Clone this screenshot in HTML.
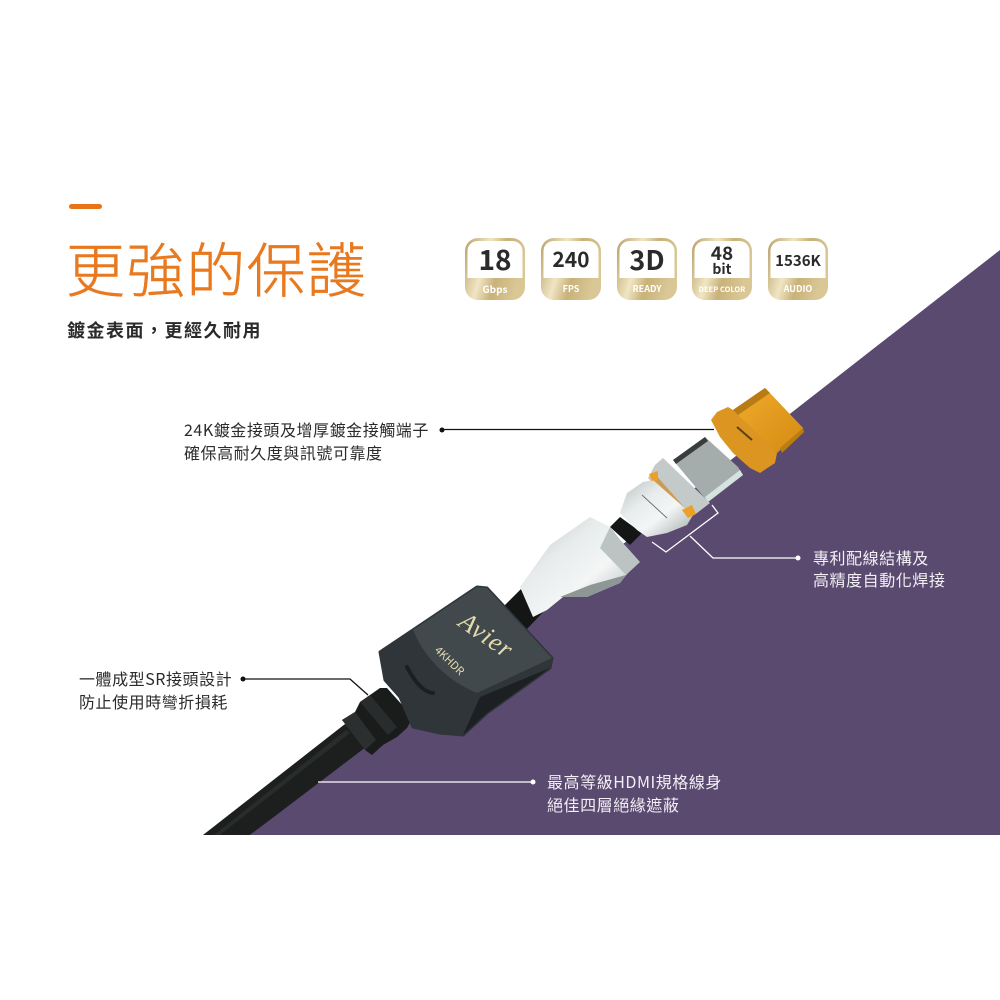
<!DOCTYPE html>
<html><head><meta charset="utf-8"><style>
html,body{margin:0;padding:0;background:#fff}
svg{display:block}
text{font-family:"Noto Sans CJK TC","Liberation Sans",sans-serif}
.l{font-size:16px;letter-spacing:.55px;fill:#2b2b2b}
.w{font-size:16px;letter-spacing:.55px;fill:#f2eff5}
.n{font-weight:bold;fill:#2b2b2b;text-anchor:middle}
.g{font-size:9px;fill:#fff;text-anchor:middle;font-weight:bold}
</style></head><body>
<svg width="1000" height="1000" viewBox="0 0 1000 1000" xmlns="http://www.w3.org/2000/svg">
<defs>
<linearGradient id="gold" x1="0" x2="1" y1="0" y2="0.3"><stop offset="0" stop-color="#b9a067"/><stop offset=".4" stop-color="#f0e6c4"/><stop offset=".65" stop-color="#c9b27a"/><stop offset="1" stop-color="#d9c795"/></linearGradient>
<linearGradient id="silver" x1="0" x2="1" y1="0" y2="1"><stop offset="0" stop-color="#b9c0c0"/><stop offset=".35" stop-color="#e8ecec"/><stop offset=".6" stop-color="#f4f6f6"/><stop offset="1" stop-color="#9fa7a7"/></linearGradient>
<linearGradient id="au" x1="0" x2="1" y1="0" y2="1"><stop offset="0" stop-color="#f0ac2c"/><stop offset="1" stop-color="#d58a12"/></linearGradient>
<g id="b"><rect x="0" y="0" width="60" height="62" rx="13" fill="url(#gold)"/><path d="M2.500 40V13a10 10 0 0 1 10-10H47.500a10 10 0 0 1 10 10V40Z" fill="#fff"/></g>
</defs>

<rect x="69" y="204" width="33" height="5" rx="2.5" fill="#e8741a"/>
<text x="66" y="292" font-size="59" font-weight="300" letter-spacing="1.200" fill="#e8791f" stroke="#e8791f" stroke-width=".5">更強的保護</text>
<text x="67" y="337" font-size="18" font-weight="bold" letter-spacing="1.500" fill="#2b2b2b">鍍金表面&#xFF0C;更經久耐用</text>

<use href="#b" x="465" y="238"/><use href="#b" x="541" y="238"/><use href="#b" x="617" y="238"/><use href="#b" x="692" y="238"/><use href="#b" x="768" y="238"/>
<text x="495" y="270" class="n" font-size="28">18</text>
<text x="571" y="267" class="n" font-size="21">240</text>
<text x="647" y="270" class="n" font-size="27">3D</text>
<text x="722" y="260" class="n" font-size="19">48</text>
<text x="722" y="274" class="n" font-size="14">bit</text>
<text x="798" y="266" class="n" font-size="15">1536K</text>
<text x="495" y="293" class="g" style="font-size:10px">Gbps</text>
<text x="571" y="292" class="g">FPS</text>
<text x="647" y="292" class="g">READY</text>
<text x="722" y="292" class="g" style="font-size:7.500px">DEEP COLOR</text>
<text x="798" y="292" class="g">AUDIO</text>

<polygon points="1000,250 1000,835 250,835" fill="#5b4a70"/>

<!-- cable -->
<polygon points="203,835 250,835 366,747 345,724" fill="#1d1f1f"/>
<polygon points="214,835 220,835 350,733 346,730" fill="#292c2c"/>
<polygon points="500,610 522,588 548,607 526,630" fill="#141515"/>
<polygon points="610,527 620,517 642,533 630,545" fill="#141515"/>

<!-- strain relief -->
<polygon points="342,720 355,712 360,702 370,695 380,688 387,688 413,717 407,728 397,737 383,745 372,755 365,750 357,737" fill="#1a1c1c"/>
<polygon points="342,720 355,712 376,740 365,750" fill="#2b2f2f"/>
<polygon points="360,702 370,695 397,727 388,735" fill="#292c2c"/>

<!-- boot -->
<path d="M380 652L477 587L487 588L552 658L550 668L487 713L463 735L440 733L413 727L400 697L385 680Z" fill="#2f3538" stroke="#2f3538" stroke-width="3" stroke-linejoin="round"/>
<path d="M413 630L477 587L487 588L552 658L477 693C450 682 425 660 413 630Z" fill="#41494d"/>
<path d="M480 697L550 668L487 713L463 735Z" fill="#1c2022"/>
<path d="M407 667Q420 692 433 693" fill="none" stroke="#1b1f20" stroke-width="4" stroke-linecap="round"/>
<text transform="translate(457,625) rotate(35)" font-size="26" font-style="italic" style="font-family:'Liberation Serif',serif" letter-spacing="1" fill="#e4dcae">Avier</text>
<text transform="translate(434,651) rotate(44)" font-size="11" fill="#e4dcae">4KHDR</text>

<!-- silver 1 -->
<polygon points="520,587 550,545 590,517 610,527 620,540 638,560 620,583 587,597 563,597 547,610 533,617" fill="url(#silver)"/>
<polygon points="610,527 622,542 640,562 626,575 600,548" fill="#bcc3c3"/>
<polygon points="560,597 587,597 620,583 626,575 590,585" fill="#8e9696"/>

<!-- metal shell -->
<polygon points="673,460 705,437 738,467 743,475 708,502" fill="#a5adac"/>
<polygon points="673,460 705,437 708,441 676,464" fill="#3a3d3d"/>
<polygon points="708,502 743,475 740,470 705,497" fill="#d4e3e0"/>
<!-- teeth -->
<polygon points="655,465 663,458 710,503 697,513 683,522 648,478" fill="#c4c9c9"/>
<polygon points="650,476 654,473 692,516 686,519" fill="#d2892a" opacity=".75"/>
<!-- silver 2 -->
<polygon points="620,513 627,493 643,482 653,480 687,510 693,515 687,525 667,533 647,537 637,530" fill="url(#silver)"/>
<path d="M642 495L667 518" stroke="#707676" stroke-width="1"/>
<polygon points="649,474 658,471 658,480 652,481" fill="#eca126"/>
<polygon points="682,510 692,505 696,514 688,518" fill="#eca126"/>

<!-- gold -->
<polygon points="711,420 717,412 728,407 733,410 765,388 803,428 777,453 775,463 760,473 750,468 733,453 720,437" fill="#dc9520"/>
<polygon points="733,410 765,388 803,428 777,453" fill="url(#au)"/>
<polygon points="733,410 765,388 770,393 738,415" fill="#b97c14"/>
<polygon points="780,448 803,428 804,432 782,453" fill="#bb7d12"/>
<path d="M737 427L752 440" stroke="#5e4113" stroke-width="2"/>

<!-- leaders -->
<circle cx="442" cy="430" r="2.500" fill="#111"/><line x1="442" y1="429.500" x2="714" y2="429.500" stroke="#111" stroke-width="1.300"/>
<circle cx="243" cy="679" r="2.500" fill="#111"/><polyline points="243,679 350,679 368,695" fill="none" stroke="#111" stroke-width="1.300"/>
<polyline points="652,542 666,552 718,513 712,505" fill="none" stroke="#fff" stroke-width="1.300"/>
<polyline points="690,536 713,558 798,558" fill="none" stroke="#fff" stroke-width="1.300"/><circle cx="798" cy="558" r="2.500" fill="#fff"/>
<line x1="318" y1="782" x2="533" y2="782" stroke="#fff" stroke-width="1.300"/><circle cx="533" cy="782" r="2.500" fill="#fff"/>

<!-- labels -->
<text x="184" y="436" class="l">24K鍍金接頭及增厚鍍金接觸端子</text>
<text x="184" y="459" class="l">確保高耐久度與訊號可靠度</text>
<text x="79" y="685" class="l">一體成型SR接頭設計</text>
<text x="79" y="708" class="l">防止使用時彎折損耗</text>
<text x="813" y="564" class="w">專利配線結構及</text>
<text x="813" y="586" class="w">高精度自動化焊接</text>
<text x="547" y="788" class="w">最高等級HDMI規格線身</text>
<text x="547" y="811" class="w">絕佳四層絕緣遮蔽</text>
</svg>
</body></html>
